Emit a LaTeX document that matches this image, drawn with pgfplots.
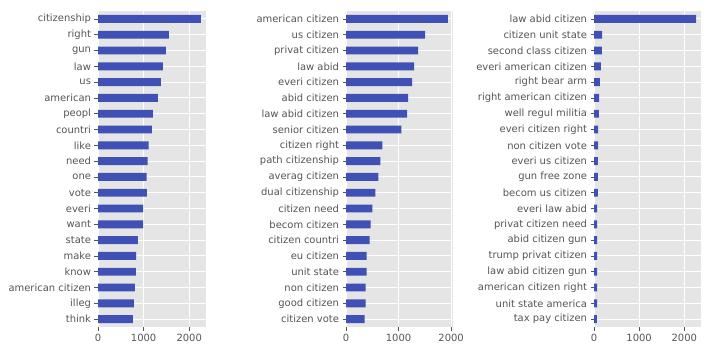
\documentclass[border=0pt]{standalone}
\usepackage{pgfplots}
\pgfplotsset{compat=1.18}
\usepackage{fontspec}
\setmainfont{DejaVu Sans}
\definecolor{barc}{RGB}{63,81,181}
\definecolor{bgc}{RGB}{229,229,229}
\definecolor{tickc}{RGB}{85,85,85}
\pgfplotsset{mystyle/.style={
  anchor=south west, scale only axis, height=316bp,
  xbar, bar width=0.5,
  y dir=reverse, ymin=-0.5, ymax=19.5, xmin=0,
  ytick={0,...,19}, xtick={0,1000,2000},
  axis background/.style={fill=bgc},
  axis line style={draw=none},
  grid=major, major grid style={white, line width=0.9bp},
  tick align=outside, xtick pos=bottom, ytick pos=left,
  major tick length=3.5bp,
  tick style={tickc, line width=0.8bp},
  ticklabel style={font=\fontsize{10}{12}\selectfont, text=tickc},
  /pgf/number format/.cd, 1000 sep={}, assume math mode=true,
  /pgfplots/.cd, scaled x ticks=false,
}}
\begin{document}
\begin{tikzpicture}
\useasboundingbox (0,0) rectangle (712bp,352bp);
\begin{axis}[mystyle, at={(98bp,25bp)}, width=108bp, xmax=2367,
  yticklabels={citizenship,right,gun,law,us,american,peopl,countri,like,need,one,vote,everi,want,state,make,know,american citizen,illeg,think}]
\addplot[fill=barc, draw=none] coordinates {
(2254,0) (1553,1) (1488,2) (1423,3) (1379,4) (1313,5) (1204,6) (1182,7) (1109,8) (1087,9)
(1068,10) (1070,11) (990,12) (988,13) (875,14) (833,15) (831,16) (810,17) (788,18) (766,19)};
\end{axis}
\begin{axis}[mystyle, at={(346bp,25bp)}, width=107bp, xmax=2035,
  yticklabels={american citizen,us citizen,privat citizen,law abid,everi citizen,abid citizen,law abid citizen,senior citizen,citizen right,path citizenship,averag citizen,dual citizenship,citizen need,becom citizen,citizen countri,eu citizen,unit state,non citizen,good citizen,citizen vote}]
\addplot[fill=barc, draw=none] coordinates {
(1938,0) (1504,1) (1372,2) (1296,3) (1258,4) (1183,5) (1164,6) (1051,7) (692,8) (654,9)
(617,10) (560,11) (503,12) (466,13) (447,14) (392,15) (390,16) (374,17) (372,18) (353,19)};
\end{axis}
\begin{axis}[mystyle, at={(594bp,25bp)}, width=107bp, xmax=2370,
  yticklabels={law abid citizen,citizen unit state,second class citizen,everi american citizen,right bear arm,right american citizen,well regul militia,everi citizen right,non citizen vote,everi us citizen,gun free zone,becom us citizen,everi law abid,privat citizen need,abid citizen gun,trump privat citizen,law abid citizen gun,american citizen right,unit state america,tax pay citizen}]
\addplot[fill=barc, draw=none] coordinates {
(2264,0) (178,1) (176,2) (154,3) (132,4) (112,5) (110,6) (90,7) (89,8) (88,9)
(88,10) (86,11) (70,12) (69,13) (69,14) (68,15) (68,16) (67,17) (67,18) (66,19)};
\end{axis}
\end{tikzpicture}
\end{document}
